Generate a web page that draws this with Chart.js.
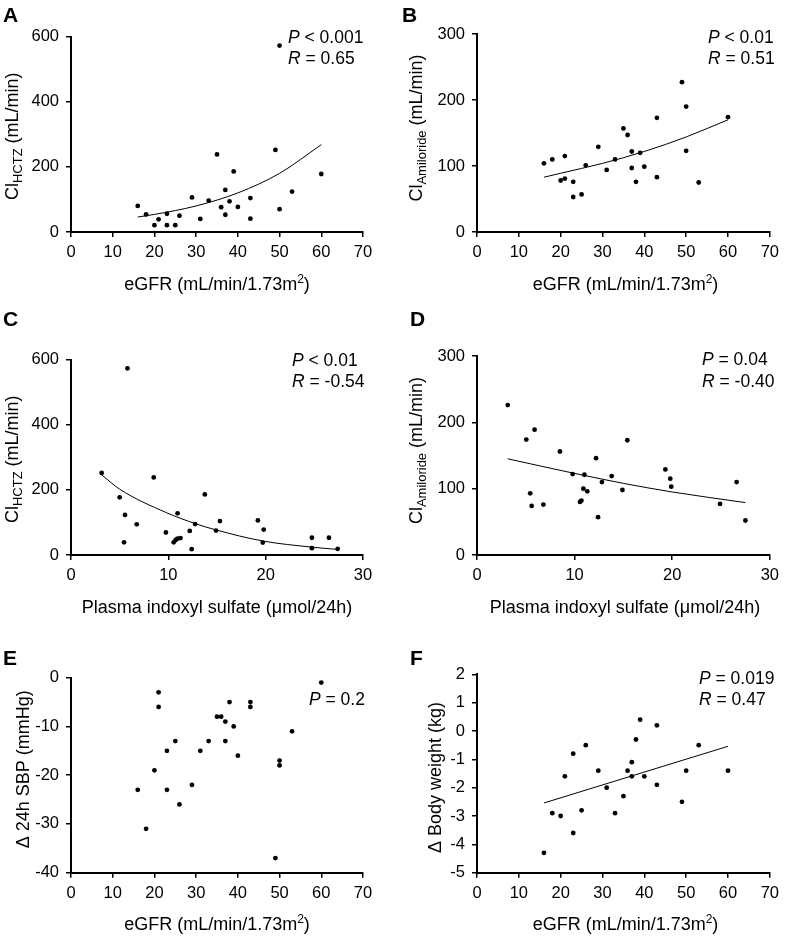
<!DOCTYPE html>
<html><head><meta charset="utf-8">
<script src="https://cdn.jsdelivr.net/npm/chart.js@4.4.1/dist/chart.umd.min.js"></script>
<style>
html,body{margin:0;padding:0;background:#fff;}
#wrap{position:relative;width:785px;height:936px;overflow:hidden;background:#fff;}
#wrap canvas{position:absolute;}
</style></head><body><div id="wrap"></div>
<script>
// ---------- DATA ----------
// Panel A: eGFR vs Cl HCTZ
const egfrA = [16,18,20,21,23,23,25,26,29,31,33,35,36,37,37,38,39,40,43,43,49,50,50,53,60];
const clHCTZ_A = [80,54,21,39,56,21,21,50,106,40,96,238,76,129,53,94,186,77,104,41,252,572,70,124,178];
const fitAx = [16,20,30,40,50,60];
const fitAy = [46,54,80,120,180,268];
// Panel B: eGFR vs Cl Amiloride
const egfrB = [16,18,20,21,21,23,23,25,26,29,31,33,35,36,37,37,38,39,40,43,43,49,50,50,53,60];
const clAmil_B = [104,110,78,115,81,76,53,57,101,129,94,110,157,147,122,97,76,120,99,173,83,227,190,123,75,174];
const fitBx = [16,20,30,40,50,60];
const fitBy = [83,89,104,122,144,170];
// Panel C: indoxyl sulfate vs Cl HCTZ
const indC = [3.15,5.0,5.55,5.45,5.8,6.75,8.5,9.75,10.55,10.75,10.95,10.95,11.25,12.2,12.4,12.75,13.75,14.9,15.3,19.2,19.8,19.7,24.75,24.75,26.5,27.4];
const clHCTZ_C = [252,177,123,39,573,94,238,69,39,46,50,128,52,74,18,95,186,75,104,106,78,38,53,21,53,19];
const fitCx = [3.15,5,9.8,12.8,14.9,19.7,24.8,27.4];
const fitCy = [246,202,130,96,77,43,24,17];
// Panel D: indoxyl sulfate vs Cl Amiloride
const indD = [3.15,5.05,5.45,5.6,5.9,6.8,8.5,9.8,10.55,10.7,10.9,11.0,11.3,12.2,12.4,12.8,13.8,14.9,15.4,19.3,19.8,19.9,24.9,26.6,27.5];
const clAmil_D = [226,174,93,74,189,76,156,122,80,82,100,121,96,146,57,110,119,98,173,129,115,103,77,110,52];
const fitDx = [3.15,10,15,20,27.5];
const fitDy = [145,123,108,95,79];
// Panel E: eGFR vs delta 24h SBP
const egfrE = [16,18,20,21,21,23,23,25,26,29,31,33,35,36,37,37,38,39,40,43,43,49,50,50,53,60];
const dSBP_E = [-23,-31,-19,-3,-6,-15,-23,-13,-26,-22,-15,-13,-8,-8,-9,-13,-5,-10,-16,-5,-6,-37,-17,-18,-11,-1];
// Panel F: eGFR vs delta body weight
const egfrF = [16,18,20,21,23,23,25,26,29,31,33,35,36,37,37,38,39,40,43,43,49,50,53,60];
const dBW_F = [-4.3,-2.9,-3.0,-1.6,-0.8,-3.6,-2.8,-0.5,-1.4,-2.0,-2.9,-2.3,-1.4,-1.1,-1.6,-0.3,0.4,-1.6,0.2,-1.9,-2.5,-1.4,-0.5,-1.4];
const fitFx = [16,60];
const fitFy = [-2.54,-0.54];

// ---------- HELPERS ----------
const FONT = '"Liberation Sans", Arial, Helvetica, sans-serif';
const TICK = 16.5, TITLE = 18, STAT = 17.5;
const YW = 60, XH = 60;
const zip = (xs, ys) => xs.map((x, i) => ({x: x, y: ys[i]}));

function drawRuns(ctx, runs, x, y, align) {
  let total = 0;
  runs.forEach(r => {
    ctx.font = (r.style || 'normal') + ' ' + (r.weight || 'normal') + ' ' + (r.size || TITLE) + 'px ' + FONT;
    r._w = ctx.measureText(r.t).width;
    total += r._w;
  });
  let cx = align === 'center' ? x - total / 2 : x;
  runs.forEach(r => {
    ctx.font = (r.style || 'normal') + ' ' + (r.weight || 'normal') + ' ' + (r.size || TITLE) + 'px ' + FONT;
    ctx.fillText(r.t, cx, y + (r.dy || 0));
    cx += r._w;
  });
}

const yTitleHCTZ = [{t:'Cl'},{t:'HCTZ', size:13, dy:4},{t:' (mL/min)'}];
const yTitleAmil = [{t:'Cl'},{t:'Amiloride', size:13, dy:4},{t:' (mL/min)'}];
const xTitleGFR = [{t:'eGFR (mL/min/1.73m'},{t:'2', size:12, dy:-7},{t:')'}];
const xTitleInd = [{t:'Plasma indoxyl sulfate (\u03bcmol/24h)'}];

function makePanel(p) {
  const wrap = document.getElementById('wrap');
  const cv = document.createElement('canvas');
  cv.width = p.box.w; cv.height = p.box.h;
  cv.style.left = p.box.x + 'px'; cv.style.top = p.box.y + 'px';
  cv.style.width = p.box.w + 'px'; cv.style.height = p.box.h + 'px';
  wrap.appendChild(cv);
  const L = p.plot.L - p.box.x, R = p.plot.R - p.box.x, T = p.plot.T - p.box.y, B = p.plot.B - p.box.y;
  const pad = {left: L - YW, right: p.box.w - R, top: T, bottom: p.box.h - B - XH};
  const axisCommon = {
    type: 'linear',
    grid: {display: true, drawOnChartArea: false, drawTicks: true, tickLength: 5, color: '#000', lineWidth: 1.5},
    border: {display: true, color: '#000', width: 2},
  };
  const textPlugin = {
    id: 'txt' + p.letter,
    afterDraw(chart) {
      const ctx = chart.ctx;
      ctx.save();
      ctx.fillStyle = '#000';
      ctx.textBaseline = 'alphabetic';
      drawRuns(ctx, [{t: p.letter, weight: 'bold', size: 21}], p.letterPos[0] - p.box.x, p.letterPos[1] - p.box.y, 'left');
      drawRuns(ctx, p.xTitle, (L + R) / 2, B + 51 + 6.5, 'center');
      p.stats.forEach(s => {
        drawRuns(ctx, s.runs.map(r => Object.assign({size: STAT}, r)), p.statX - p.box.x, s.y - p.box.y + 6, 'left');
      });
      ctx.save();
      ctx.translate(p.yTitleX - p.box.x, (T + B) / 2 + (p.yTitleDY || 0));
      ctx.rotate(-Math.PI / 2);
      drawRuns(ctx, p.yTitle, 0, 6.5, 'center');
      ctx.restore();
      ctx.restore();
    }
  };
  const datasets = [];
  datasets.push({
    data: zip(p.xs, p.ys), showLine: false, pointRadius: 2.4, pointHoverRadius: 2.4,
    pointBackgroundColor: '#000', pointBorderColor: '#000', pointBorderWidth: 0, clip: false, order: 1
  });
  if (p.fx) {
    datasets.push({
      data: zip(p.fx, p.fy), showLine: true, pointRadius: 0, borderColor: '#000', borderWidth: 1,
      cubicInterpolationMode: 'monotone', fill: false, clip: false, order: 2
    });
  }
  new Chart(cv, {
    type: 'scatter',
    data: {datasets: datasets},
    plugins: [textPlugin],
    options: {
      responsive: false, animation: false, devicePixelRatio: 1,
      layout: {padding: pad},
      events: [],
      plugins: {legend: {display: false}, tooltip: {enabled: false}},
      scales: {
        x: Object.assign({}, axisCommon, {
          position: 'bottom', min: p.xMin, max: p.xMax,
          ticks: {stepSize: p.xStep, color: '#000', font: {family: FONT, size: TICK}, padding: 6, maxRotation: 0, autoSkip: false},
          afterFit(s) { s.height = XH; }
        }),
        y: Object.assign({}, axisCommon, {
          position: 'left', min: p.yMin, max: p.yMax,
          ticks: {stepSize: p.yStep, color: '#000', font: {family: FONT, size: TICK}, padding: 7, autoSkip: false},
          afterFit(s) { s.width = YW; }
        })
      }
    }
  });
}

const P = (rest) => [{t:'P', style:'italic'},{t: rest}];
const Rr = (rest) => [{t:'R', style:'italic'},{t: rest}];

makePanel({letter:'A', letterPos:[3,22], box:{x:0,y:0,w:392,h:310}, plot:{L:71,R:363,T:36.5,B:232},
  xMin:0,xMax:70,xStep:10, yMin:0,yMax:600,yStep:200, xs:egfrA, ys:clHCTZ_A, fx:fitAx, fy:fitAy,
  yTitle:yTitleHCTZ, yTitleX:11, yTitleDY:2, xTitle:xTitleGFR, statX:288,
  stats:[{runs:P(' < 0.001'), y:37},{runs:Rr(' = 0.65'), y:58}]});
makePanel({letter:'B', letterPos:[402,22], box:{x:392,y:0,w:393,h:310}, plot:{L:477,R:774,T:34,B:232},
  xMin:0,xMax:70,xStep:10, yMin:0,yMax:300,yStep:100, xs:egfrB, ys:clAmil_B, fx:fitBx, fy:fitBy,
  yTitle:yTitleAmil, yTitleX:415, yTitleDY:-5, xTitle:xTitleGFR, statX:708,
  stats:[{runs:P(' < 0.01'), y:37},{runs:Rr(' = 0.51'), y:58}]});
makePanel({letter:'C', letterPos:[3,326], box:{x:0,y:310,w:392,h:320}, plot:{L:71,R:363,T:359.5,B:555},
  xMin:0,xMax:30,xStep:10, yMin:0,yMax:600,yStep:200, xs:indC, ys:clHCTZ_C, fx:fitCx, fy:fitCy,
  yTitle:yTitleHCTZ, yTitleX:11, yTitleDY:2, xTitle:xTitleInd, statX:292,
  stats:[{runs:P(' < 0.01'), y:360},{runs:Rr(' = -0.54'), y:381}]});
makePanel({letter:'D', letterPos:[410,326], box:{x:392,y:310,w:393,h:320}, plot:{L:477,R:773,T:356,B:555},
  xMin:0,xMax:30,xStep:10, yMin:0,yMax:300,yStep:100, xs:indD, ys:clAmil_D, fx:fitDx, fy:fitDy,
  yTitle:yTitleAmil, yTitleX:415, yTitleDY:-5, xTitle:xTitleInd, statX:702,
  stats:[{runs:P(' = 0.04'), y:359},{runs:Rr(' = -0.40'), y:381}]});
makePanel({letter:'E', letterPos:[3,665], box:{x:0,y:630,w:392,h:306}, plot:{L:71,R:363,T:677.7,B:872.7},
  xMin:0,xMax:70,xStep:10, yMin:-40,yMax:0,yStep:10, xs:egfrE, ys:dSBP_E,
  yTitle:[{t:'\u0394 24h SBP (mmHg)'}], yTitleX:22, yTitleDY:-6, xTitle:xTitleGFR, statX:309,
  stats:[{runs:P(' = 0.2'), y:699}]});
makePanel({letter:'F', letterPos:[410,665], box:{x:392,y:630,w:393,h:306}, plot:{L:477,R:774,T:674.3,B:872.7},
  xMin:0,xMax:70,xStep:10, yMin:-5,yMax:2,yStep:1, xs:egfrF, ys:dBW_F, fx:fitFx, fy:fitFy,
  yTitle:[{t:'\u0394 Body weight (kg)'}], yTitleX:434, yTitleDY:4, xTitle:xTitleGFR, statX:699,
  stats:[{runs:P(' = 0.019'), y:678},{runs:Rr(' = 0.47'), y:699}]});
</script></body></html>
